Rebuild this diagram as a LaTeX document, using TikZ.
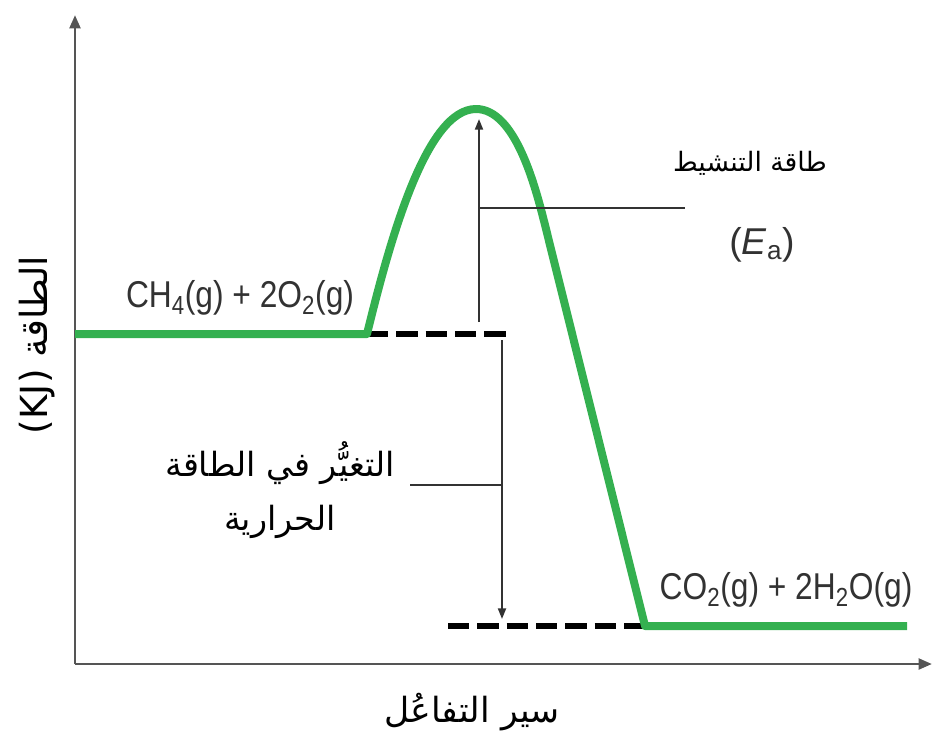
\documentclass[tikz,border=0pt]{standalone}
\usepackage{fontspec}
\setmainfont{Liberation Sans}
\newfontfamily\arabicfont[Script=Arabic]{DejaVu Sans}
\newfontfamily\chemfont[FakeStretch=0.85]{Liberation Sans}
\TeXXeTstate=1
\usetikzlibrary{arrows.meta}
\definecolor{curvegreen}{RGB}{52,176,80}
\definecolor{axisgray}{RGB}{85,85,85}
\definecolor{textgray}{RGB}{50,50,50}
\tikzset{
  axisline/.style={draw=axisgray, line width=2.2pt, -{Triangle[length=10pt,width=8pt]}},
  greenline/.style={draw=curvegreen, line width=6pt, line cap=butt, line join=round},
  dashline/.style={draw=black, line width=3.8pt, dash pattern=on 16pt off 6pt},
  measure/.style={draw=textgray, line width=1.5pt, -{Triangle[length=8pt,width=6pt]}},
  leader/.style={draw=textgray, line width=1.1pt},
  chemlabel/.style={text=textgray, font=\chemfont\fontsize{28}{30}\selectfont, inner sep=0pt},
  arlabel/.style={text=black, inner sep=0pt, align=center},
}
\begin{document}
\begin{tikzpicture}[x=0.75pt,y=-0.75pt]
\useasboundingbox (0,0) rectangle (941,750);
% axes
\coordinate (origin) at (75,664);
\coordinate (ytop) at (75,15);
\coordinate (xend) at (932,664);
\draw[axisline] (origin) -- (ytop);
\draw[axisline] (origin) -- (xend);
% dashed levels
\coordinate (rStart) at (75,334);
\coordinate (rEnd) at (367,334);
\coordinate (rDash) at (512,334);
\coordinate (pStart) at (645,626);
\coordinate (pEnd) at (907,626);
\coordinate (pDash) at (448,626);
\draw[dashline] (rEnd) -- (rDash);
\draw[dashline] (pDash) -- (pStart);
% green profile
\coordinate (peak) at (476,109);
\coordinate (bend) at (545,225);
\draw[greenline] (rStart) -- (rEnd)
  .. controls (390,240) and (426,109) .. (peak)
  .. controls (515,109) and (535,185) .. (bend)
  -- (pStart) -- (pEnd);
% activation energy arrow
\coordinate (eaBase) at (479,322);
\coordinate (eaTop) at (479,119);
\coordinate (eaJoin) at (479,208);
\coordinate (eaLead) at (685,208);
\draw[measure] (eaBase) -- (eaTop);
\draw[leader] (eaJoin) -- (eaLead);
% enthalpy arrow
\coordinate (dhTop) at (502,340);
\coordinate (dhBot) at (502,619);
\coordinate (dhJoin) at (502,485);
\coordinate (dhLead) at (410,485);
\draw[measure] (dhTop) -- (dhBot);
\draw[leader] (dhLead) -- (dhJoin);
% labels
\node[chemlabel] (reac) at (240,298) {CH\textsubscript{4}(g) + 2O\textsubscript{2}(g)};
\node[chemlabel] (prod) at (786,590) {CO\textsubscript{2}(g) + 2H\textsubscript{2}O(g)};
\node[arlabel, font=\arabicfont\fontsize{20}{24}\selectfont] (ealabel) at (750,163) {\beginR طاقة التنشيط\endR};
\node[chemlabel, font=\fontsize{28}{30}\selectfont] (easym) at (762,245) {(\textit{E}\textsubscript{a})};
\node[arlabel, font=\arabicfont\fontsize{25}{28}\selectfont] (dhlabel1) at (280,463) {\beginR التغيُّر في الطاقة\endR};
\node[arlabel, font=\arabicfont\fontsize{25}{28}\selectfont] (dhlabel2) at (280,522) {\beginR الحرارية\endR};
\node[arlabel, font=\arabicfont\fontsize{26}{28}\selectfont] (xlabel) at (472,712) {\beginR سير التفاعُل\endR};
\node[arlabel, font=\arabicfont\fontsize{28}{30}\selectfont, rotate=90] (ylabel) at (37,345) {\beginR الطاقة \beginL(KJ)\endL\endR};
\end{tikzpicture}
\end{document}
